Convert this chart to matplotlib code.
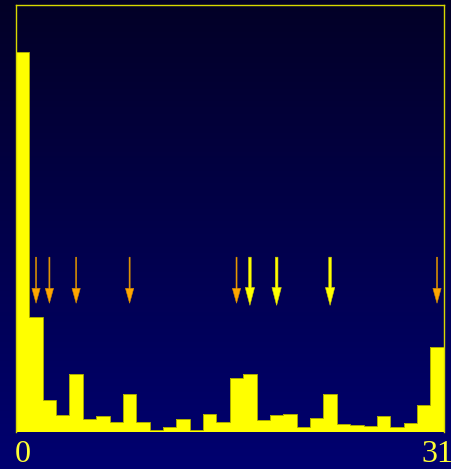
import numpy as np
import matplotlib
matplotlib.use("Agg")
import matplotlib.pyplot as plt

# bar heights (axis runs 0..100)
counts = [89.0, 26.8, 7.5, 3.8, 13.5, 3.0, 3.6, 2.3, 8.8, 2.3,
          0.5, 1.1, 3.0, 0.5, 4.1, 2.3, 12.6, 13.5, 2.8, 3.8,
          4.1, 1.1, 3.3, 8.8, 1.8, 1.6, 1.4, 3.6, 1.1, 2.0,
          6.3, 19.9]
bins = np.arange(len(counts))

# arrow markers
orange_at = [1, 2, 4, 8, 16, 31]
yellow_at = [17, 19, 23]
arrow_top = 40.9
arrow_tip = 30.1

tick_pos = [0, 31]
tick_txt = ["0", "31"]

fig = plt.figure(figsize=(4.52, 4.69), dpi=100)

# background gradient, dark at the top going to navy at the bottom
bg = fig.add_axes([0, 0, 1, 1], zorder=-10)
top = np.array([3, 0, 38]) / 255
bot = np.array([0, 0, 112]) / 255
t = np.linspace(0, 1, 256)[:, None]
grad = (top * (1 - t) + bot * t)[:, None, :]
bg.imshow(grad, aspect="auto", extent=[0, 1, 0, 1])
bg.axis("off")

ax = fig.add_axes([16 / 452, 37.3 / 469, 427.7 / 452, 426.7 / 469])
ax.patch.set_alpha(0)
ax.bar(bins, counts, width=1.0, color="#ffff00", linewidth=0, zorder=2)
# thin olive outline of the histogram
ax.stairs(counts, np.arange(len(counts) + 1) - 0.5, color="#a8a800",
          lw=0.7, zorder=2.5)

for x in orange_at:
    ax.arrow(x, arrow_top, 0, arrow_tip - arrow_top, width=0.08,
             head_width=0.62, head_length=3.5, length_includes_head=True,
             color="#ffa500", ec="#d08a00", lw=0.4, zorder=3)
for x in yellow_at:
    ax.arrow(x, arrow_top, 0, arrow_tip - 0.5 - arrow_top, width=0.2,
             head_width=0.7, head_length=4.2, length_includes_head=True,
             color="#ffff00", ec="#d0d000", lw=0.4, zorder=3)

ax.set_xlim(-0.5, 31.5)
ax.set_ylim(0, 100)
ax.set_yticks([])
ax.set_xticks(tick_pos)
ax.set_xticklabels(tick_txt, family="Liberation Serif", fontsize=23,
                   color="#ffff33")
ax.tick_params(axis="x", length=0, pad=6)
for s in ax.spines.values():
    s.set_color("#d8d800")
    s.set_linewidth(1.0)
ax.spines["bottom"].set_visible(False)

fig.savefig("out.png", dpi=100)
